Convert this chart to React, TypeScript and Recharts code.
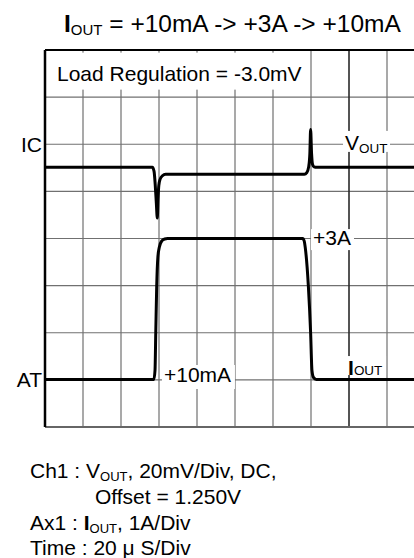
import React from 'react';
import { LineChart, Line, XAxis, YAxis, CartesianGrid, ReferenceLine, ReferenceDot } from 'recharts';

const FONT = '"Liberation Sans", Arial, Helvetica, sans-serif';

// scope screen: 20 uS/div across, 8 divisions high
const timeTicks = [0, 20, 40, 60, 80, 100, 120, 140, 160, 180, 200];
const divTicks = [0, 1, 2, 3, 4, 5, 6, 7, 8];

// Ch1 : Vout, 20mV/div, mV relative to the IC marker (div 6)
const voutTime = [0, 56.5, 57.4, 58.0, 58.6, 59.1, 59.5, 59.9, 60.6, 61.8, 63.5, 136.5, 137.8, 138.8, 139.4, 139.8, 140.3, 140.8, 141.6, 143.0, 200];
const voutMv = [-9.8, -9.8, -11.5, -17, -25, -31.3, -23, -17.5, -14.8, -13.4, -12.7, -12.7, -12, -9.5, -4, 6.3, -4, -8.5, -9.6, -9.8, -9.8];

// Ax1 : Iout, 1A/div, marker AT sits on div 1
const ioutTime = [0, 57.3, 57.9, 58.3, 58.8, 59.4, 60.2, 61.5, 63.0, 64.5, 135.6, 136.4, 137.0, 138.6, 139.8, 140.5, 141.3, 142.8, 200];
const ioutAmp = [0.01, 0.01, 0.2, 1.0, 2.0, 2.6, 2.82, 2.95, 2.99, 3.0, 3.0, 2.95, 2.8, 2.0, 1.0, 0.2, 0.05, 0.01, 0.01];

const IC_DIV = 6;
const MV_PER_DIV = 20;
const AT_DIV = 1;
const A_PER_DIV = 1;

const voutData = voutTime.map((t, i) => ({ t, v: IC_DIV + voutMv[i] / MV_PER_DIV }));
const ioutData = ioutTime.map((t, i) => ({ t, v: AT_DIV + ioutAmp[i] / A_PER_DIV }));

const BoxLabel = (props: any) => {
  const { viewBox, main, sub, boldMain, box, dx = 0, dy = 0, size = 21, subDy = 3, anchor = 'start' } = props;
  if (!viewBox) return null;
  const x = viewBox.x + viewBox.width / 2 + dx;
  const y = viewBox.y + viewBox.height / 2 + dy;
  return (
    <g>
      {box && <rect x={x + box[0]} y={y + box[1]} width={box[2]} height={box[3]} fill="#fff" />}
      <text x={x} y={y} fontSize={size} fontFamily={FONT} textAnchor={anchor} fill="#000" style={{ whiteSpace: 'pre' }}>
        <tspan fontWeight={boldMain ? 700 : 400}>{main}</tspan>
        {sub && (
          <tspan fontSize={size * 0.64} dy={subDy}>
            {sub}
          </tspan>
        )}
      </text>
    </g>
  );
};

const hiddenDot = { r: 1, fill: 'none', stroke: 'none', ifOverflow: 'visible' as const };

export default function App() {
  return (
    <div style={{ position: 'absolute', left: 0, top: 0, width: 414, height: 558, overflow: 'hidden', background: '#fff' }}>
      <LineChart
        width={430}
        height={440}
        margin={{ top: 50, right: 5, bottom: 13, left: 45 }}
        style={{ position: 'absolute', left: 0, top: 0 }}
      >
        <XAxis dataKey="t" type="number" domain={[0, 200]} ticks={timeTicks} hide allowDataOverflow />
        <YAxis type="number" domain={[0, 8]} ticks={divTicks} hide allowDataOverflow />
        <CartesianGrid stroke="#707070" strokeWidth={1.2} />
        <ReferenceLine x={160} stroke="#000" strokeWidth={1} />
        <ReferenceLine y={0} stroke="#666" strokeWidth={2} />
        <ReferenceLine y={8} stroke="#000" strokeWidth={2} />
        <ReferenceLine x={0} stroke="#000" strokeWidth={2.5} />

        <ReferenceDot {...hiddenDot} x={6.32} y={7.35}
          label={<BoxLabel main="Load Regulation = -3.0mV" box={[-7, -28, 258, 37]} />} />
        <ReferenceDot {...hiddenDot} x={157.9} y={5.88}
          label={<BoxLabel main="V" sub="OUT" box={[-2, -19, 47, 21]} />} />
        <ReferenceDot {...hiddenDot} x={141.05} y={3.86}
          label={<BoxLabel main="+3A" box={[-2, -16, 43, 21]} />} />
        <ReferenceDot {...hiddenDot} x={62.6} y={0.955}
          label={<BoxLabel main="+10mA" box={[-2, -17, 73, 24]} />} />
        <ReferenceDot {...hiddenDot} x={159.5} y={1.06}
          label={<BoxLabel main="I" boldMain sub="OUT" subDy={0} dy={-2} box={[-2, -19, 40, 19]} />} />
        <ReferenceDot {...hiddenDot} x={0} y={IC_DIV}
          label={<BoxLabel main="IC" anchor="end" dx={-3} dy={7.5} />} />
        <ReferenceDot {...hiddenDot} x={0} y={AT_DIV}
          label={<BoxLabel main="AT" anchor="end" dx={-3} dy={7.5} />} />

        <Line data={voutData} dataKey="v" type="monotoneX" stroke="#000" strokeWidth={3} dot={false} isAnimationActive={false} />
        <Line data={ioutData} dataKey="v" type="monotoneX" stroke="#000" strokeWidth={3} dot={false} isAnimationActive={false} />
      </LineChart>

      <svg width={414} height={558} style={{ position: 'absolute', left: 0, top: 0, pointerEvents: 'none' }} fontFamily={FONT}>
        <text x={64} y={31.5} fontSize={24.5} style={{ whiteSpace: 'pre' }}>
          <tspan fontWeight={700}>I</tspan>
          <tspan fontSize={15} dy={3}>OUT</tspan>
          <tspan dy={-3}>{' = +10mA -> +3A -> +10mA'}</tspan>
        </text>
        <g fontSize={21} style={{ whiteSpace: 'pre' }}>
          <text x={30} y={478}>
            <tspan>{'Ch1 : V'}</tspan>
            <tspan fontSize={13} dy={3}>OUT</tspan>
            <tspan dy={-3}>{', 20mV/Div, DC,'}</tspan>
          </text>
          <text x={95} y={504}>Offset = 1.250V</text>
          <text x={30} y={530}>
            <tspan>{'Ax1 : '}</tspan>
            <tspan fontWeight={700}>I</tspan>
            <tspan fontSize={13} dy={3}>OUT</tspan>
            <tspan dy={-3}>{', 1A/Div'}</tspan>
          </text>
          <text x={30} y={555}>{'Time : 20 μ S/Div'}</text>
        </g>
      </svg>
    </div>
  );
}
